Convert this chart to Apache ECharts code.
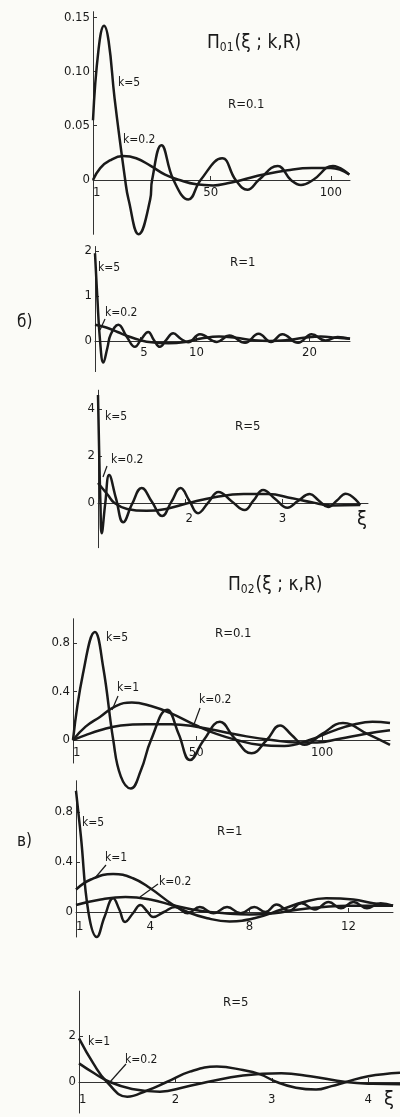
<!DOCTYPE html>
<html><head><meta charset="utf-8">
<script src="https://cdn.jsdelivr.net/npm/echarts@6/dist/echarts.min.js"></script>
<style>html,body{margin:0;padding:0;background:#fbfbf7}#c{width:400px;height:1117px}</style>
</head><body><div id="c"></div>
<script>
// ---- Data ----
// Panel 1: Π01, R=0.1
const p1_k5 = [[1,0.055],[3.3,0.12],[5.6,0.142],[7.5,0.128],[10,0.075],[14.4,0],[15.8,-0.018],[20,-0.05],[24.8,-0.018],[25.6,0],[29.5,0.032],[34.5,0],[40.7,-0.018],[45.8,0],[54.8,0.020],[60.4,0],[65.3,-0.009],[70,0],[77.9,0.013],[83.4,0],[87.6,-0.0046],[92.6,0],[100.9,0.013],[107.7,0.005]];
const p1_k02 = [[1,0],[4,0.011],[8,0.018],[13.5,0.022],[19,0.02],[25,0.013],[31,0.005],[37,0],[44,-0.004],[51,-0.005],[57,-0.003],[63,0],[72,0.005],[82,0.009],[92,0.011],[100,0.011],[107.7,0.005]];
const p1_yTicks = [0, 0.05, 0.10, 0.15];
const p1_xTicks = [1, 50, 100];
// Panel 2: Π01, R=1
const p2_k5 = [[1,1.95],[1.2,1.0],[1.45,0],[1.74,-0.48],[2.1,-0.15],[2.4,0.15],[3.07,0.36],[3.8,0.1],[4.54,-0.13],[5.1,0.04],[5.72,0.2],[6.2,0.03],[6.75,-0.13],[7.3,0.02],[7.93,0.17],[8.6,0.05],[9.26,-0.03],[10.3,0.15],[11.8,-0.02],[12.9,0.12],[14.3,-0.04],[15.5,0.16],[16.6,-0.02],[17.6,0.15],[19,-0.04],[20.2,0.15],[21.4,0.01],[22.5,0.09],[23.6,0.05]];
const p2_k02 = [[1,0.36],[2,0.3],[3,0.2],[4,0.1],[5,0.02],[6,-0.03],[7.5,-0.05],[9,-0.02],[10.5,0.06],[12,0.1],[13.5,0.07],[15,0.02],[16.5,0.0],[18,0.02],[19.5,0.07],[21,0.1],[22.5,0.07],[23.6,0.05]];
const p2_yTicks = [0, 1, 2];
const p2_xTicks = [5, 10, 20];
// Panel 3: Π01, R=5
const p3_k5 = [[1.1,4.6],[1.115,1.6],[1.125,0],[1.138,-1.28],[1.175,0],[1.215,1.19],[1.285,0.2],[1.36,-0.82],[1.45,-0.05],[1.55,0.64],[1.655,0.05],[1.76,-0.55],[1.855,0.05],[1.95,0.64],[2.04,0.1],[2.13,-0.43],[2.235,0.02],[2.34,0.47],[2.475,0.08],[2.61,-0.3],[2.7,0.1],[2.8,0.55],[2.925,0.17],[3.05,-0.2],[3.16,0.09],[3.28,0.38],[3.375,0.1],[3.47,-0.17],[3.56,0.11],[3.65,0.4],[3.8,-0.08]];
const p3_k02 = [[1.1,0.85],[1.2,0.35],[1.27,0],[1.4,-0.25],[1.6,-0.33],[1.8,-0.25],[2.03,0],[2.3,0.25],[2.6,0.38],[2.85,0.38],[3.1,0.2],[3.3,0.03],[3.5,-0.1],[3.8,-0.08]];
const p3_yTicks = [0, 2, 4];
const p3_xTicks = [2, 3];
// Panel 4: Π02, R=0.1
const p4_k5 = [[1,0],[5,0.55],[9.7,0.89],[13,0.6],[17,0],[20,-0.3],[24,-0.4],[28,-0.25],[32,0],[38.4,0.25],[43,0.05],[47.5,-0.165],[53,0],[59.4,0.15],[65,0.02],[72,-0.11],[78,0],[83.3,0.12],[88,0.04],[93,-0.04],[100,0.05],[108.3,0.14],[118,0.05],[127,-0.04]];
const p4_k1 = [[1,0],[6,0.11],[11.7,0.19],[18,0.28],[24.4,0.31],[32,0.28],[40,0.22],[50,0.12],[58,0.05],[66,0.0],[75,-0.04],[85,-0.05],[95,0.0],[105,0.08],[113,0.13],[120,0.15],[127,0.14]];
const p4_k02 = [[1,0],[6,0.04],[11.7,0.08],[20,0.12],[30,0.13],[40,0.13],[50,0.11],[60,0.07],[70,0.03],[80,0.0],[90,-0.02],[98,-0.02],[107,0.01],[117,0.05],[127,0.08]];
const p4_yTicks = [0, 0.4, 0.8];
const p4_xTicks = [1, 50, 100];
// Panel 5: Π02, R=1
const p5_k5 = [[1,0.97],[1.2,0.6],[1.5,0],[1.84,-0.2],[2.15,-0.04],[2.5,0.11],[2.75,0.02],[2.98,-0.08],[3.3,-0.01],[3.6,0.056],[3.85,0.01],[4.12,-0.04],[4.55,0.0],[5.0,0.04],[5.5,-0.01],[6.0,0.04],[6.55,-0.01],[7.1,0.04],[7.65,-0.01],[8.2,0.04],[8.65,0.0],[9.1,0.06],[9.6,0.01],[10.1,0.07],[10.65,0.02],[11.2,0.08],[11.7,0.03],[12.2,0.08],[12.75,0.03],[13.3,0.07],[13.8,0.05]];
const p5_k1 = [[1,0.18],[1.6,0.26],[2.5,0.305],[3.3,0.27],[4.0,0.19],[4.9,0.06],[5.5,0.0],[6.3,-0.05],[7.2,-0.075],[8.2,-0.05],[9.3,0.02],[10.2,0.08],[11.1,0.11],[12.2,0.1],[13,0.07],[13.8,0.05]];
const p5_k02 = [[1,0.056],[2,0.1],[3,0.12],[4,0.1],[5,0.05],[6,0.01],[7,-0.01],[8,-0.02],[9,-0.01],[10,0.02],[11,0.04],[12,0.05],[13,0.05],[13.8,0.05]];
const p5_yTicks = [0, 0.4, 0.8];
const p5_xTicks = [1, 4, 8, 12];
// Panel 6: Π02, R=5
const p6_k1 = [[1,1.9],[1.15,0.8],[1.29,0],[1.5,-0.64],[1.7,-0.38],[1.91,0],[2.15,0.45],[2.43,0.67],[2.7,0.52],[2.88,0.33],[3.05,0],[3.25,-0.25],[3.46,-0.33],[3.62,-0.18],[3.77,0],[4.0,0.25],[4.33,0.4]];
const p6_k02 = [[1,0.81],[1.15,0.4],[1.32,0],[1.55,-0.3],[1.84,-0.42],[2.1,-0.22],[2.33,0],[2.7,0.28],[3.1,0.38],[3.4,0.25],[3.77,0],[4.05,-0.08],[4.33,-0.1]];
const p6_yTicks = [0, 2];
const p6_xTicks = [1, 2, 3, 4];

// ---- Layout ----
const FONT = '"DejaVu Sans Condensed", "DejaVu Sans", sans-serif';
const INK = '#1a1a1a';
const panels = [
  {grid:{left:93,top:11.7,width:257,height:222.6}, x:[1,108], y:[-0.05,0.155], yt:p1_yTicks, xt:p1_xTicks, xm:6, yfmt:v=>v===0?'0':v.toFixed(2), series:[p1_k5,p1_k02]},
  {grid:{left:95,top:246.5,width:255,height:125.1}, x:[1,23.6], y:[-0.68,2.1], yt:p2_yTicks, xt:p2_xTicks, xm:5, yfmt:v=>String(v), series:[p2_k5,p2_k02]},
  {grid:{left:98,top:390.2,width:270,height:157.5}, x:[1.1,3.88], y:[-1.9,4.8], yt:p3_yTicks, xt:p3_xTicks, xm:9, yfmt:v=>String(v), series:[p3_k5,p3_k02]},
  {grid:{left:73,top:618.75,width:317,height:144.3}, x:[1,127], y:[-0.19,1.0], yt:p4_yTicks, xt:p4_xTicks, xm:6, yfmt:v=>v===0?'0':v.toFixed(1), series:[p4_k5,p4_k1,p4_k02]},
  {grid:{left:76,top:780.75,width:317,height:156.25}, x:[1,13.8], y:[-0.2,1.05], yt:p5_yTicks, xt:p5_xTicks, xm:8, yfmt:v=>v===0?'0':v.toFixed(1), series:[p5_k5,p5_k1,p5_k02]},
  {grid:{left:79,top:991.15,width:321,height:121.9}, x:[1,4.33], y:[-1.35,3.95], yt:p6_yTicks, xt:p6_xTicks, xm:11, yfmt:v=>String(v), series:[p6_k1,p6_k02]}
];

const grids=[], xAxes=[], yAxes=[], series=[];
panels.forEach((p,i)=>{
  grids.push(Object.assign({containLabel:false}, p.grid));
  // move the whole x axis (line, ticks, labels) up to the zero level
  const off = -(0 - p.y[0]) / (p.y[1] - p.y[0]) * p.grid.height;
  xAxes.push({type:'value', gridIndex:i, min:p.x[0], max:p.x[1], position:'bottom', offset:off,
    axisLine:{show:true,onZero:false,lineStyle:{color:'#333',width:1}},
    axisTick:{show:true,inside:true,length:4,customValues:p.xt.filter(v=>v!==p.x[0]),lineStyle:{color:'#333'}},
    axisLabel:{show:true,customValues:p.xt,margin:p.xm,color:'#1a1a1a',fontFamily:FONT,fontSize:13,alignMinLabel:'left'},
    splitLine:{show:false}});
  yAxes.push({type:'value', gridIndex:i, min:p.y[0], max:p.y[1],
    axisLine:{show:true,onZero:false,lineStyle:{color:'#333',width:1}},
    axisTick:{show:true,inside:true,length:4,customValues:p.yt,lineStyle:{color:'#333'}},
    axisLabel:{show:true,customValues:p.yt,margin:3,color:'#1a1a1a',fontFamily:FONT,fontSize:13,formatter:p.yfmt},
    splitLine:{show:false}});
  p.series.forEach(d=>series.push({type:'line', xAxisIndex:i, yAxisIndex:i, data:d, showSymbol:false,
    smooth:0.45, clip:false, lineStyle:{color:INK,width:2.5}, silent:true}));
});

function txt(x,y,text,size,extra){
  return Object.assign({type:'text', x:x, y:y, style:{text:text, fill:'#1a1a1a', font:(size||13)+'px '+FONT, align:'left', verticalAlign:'middle'}}, extra||{});
}
function lead(x1,y1,x2,y2){
  return {type:'line', shape:{x1:x1,y1:y1,x2:x2,y2:y2}, style:{stroke:'#1a1a1a',lineWidth:1.2}};
}
const titleRich = {a:{fontSize:19,fontFamily:FONT,fill:'#1a1a1a'}, s:{fontSize:12,fontFamily:FONT,fill:'#1a1a1a',padding:[9,1,0,0]}};
const graphics = [
  {type:'text', x:207, y:43, style:{text:'{a|Π}{s|01}{a|(ξ ; k,R)}', rich:titleRich, verticalAlign:'middle'}},
  txt(228,105,'R=0.1',13), txt(118,83,'k=5',12), txt(123,140,'k=0.2',12),
  txt(230,263,'R=1',13), txt(98,268,'k=5',12), txt(105,313,'k=0.2',12), lead(105,319,100,330),
  txt(17,323,'б)',17),
  txt(235,427,'R=5',13), txt(105,417,'k=5',12), txt(111,460,'k=0.2',12), lead(107,466,103,477),
  txt(357,520,'ξ',20),
  {type:'text', x:228, y:585, style:{text:'{a|Π}{s|02}{a|(ξ ; κ,R)}', rich:titleRich, verticalAlign:'middle'}},
  txt(215,634,'R=0.1',13), txt(106,638,'k=5',12), txt(117,688,'k=1',12), lead(118,696,112,710),
  txt(199,700,'k=0.2',12), lead(200,708,193,727),
  txt(17,842,'в)',17),
  txt(217,832,'R=1',13), txt(82,823,'k=5',12), txt(105,858,'k=1',12), lead(106,865,95,878),
  txt(159,882,'k=0.2',12), lead(158,884,140,897),
  txt(223,1003,'R=5',13), txt(88,1042,'k=1',12), txt(125,1060,'k=0.2',12), lead(126,1064,110,1082),
  txt(384,1100,'ξ',20)
];

const chart = echarts.init(document.getElementById('c'), null, {renderer:'canvas'});
chart.setOption({
  backgroundColor:'#fbfbf7', animation:false,
  grid:grids, xAxis:xAxes, yAxis:yAxes, series:series, graphic:{elements:graphics}
});
</script></body></html>
